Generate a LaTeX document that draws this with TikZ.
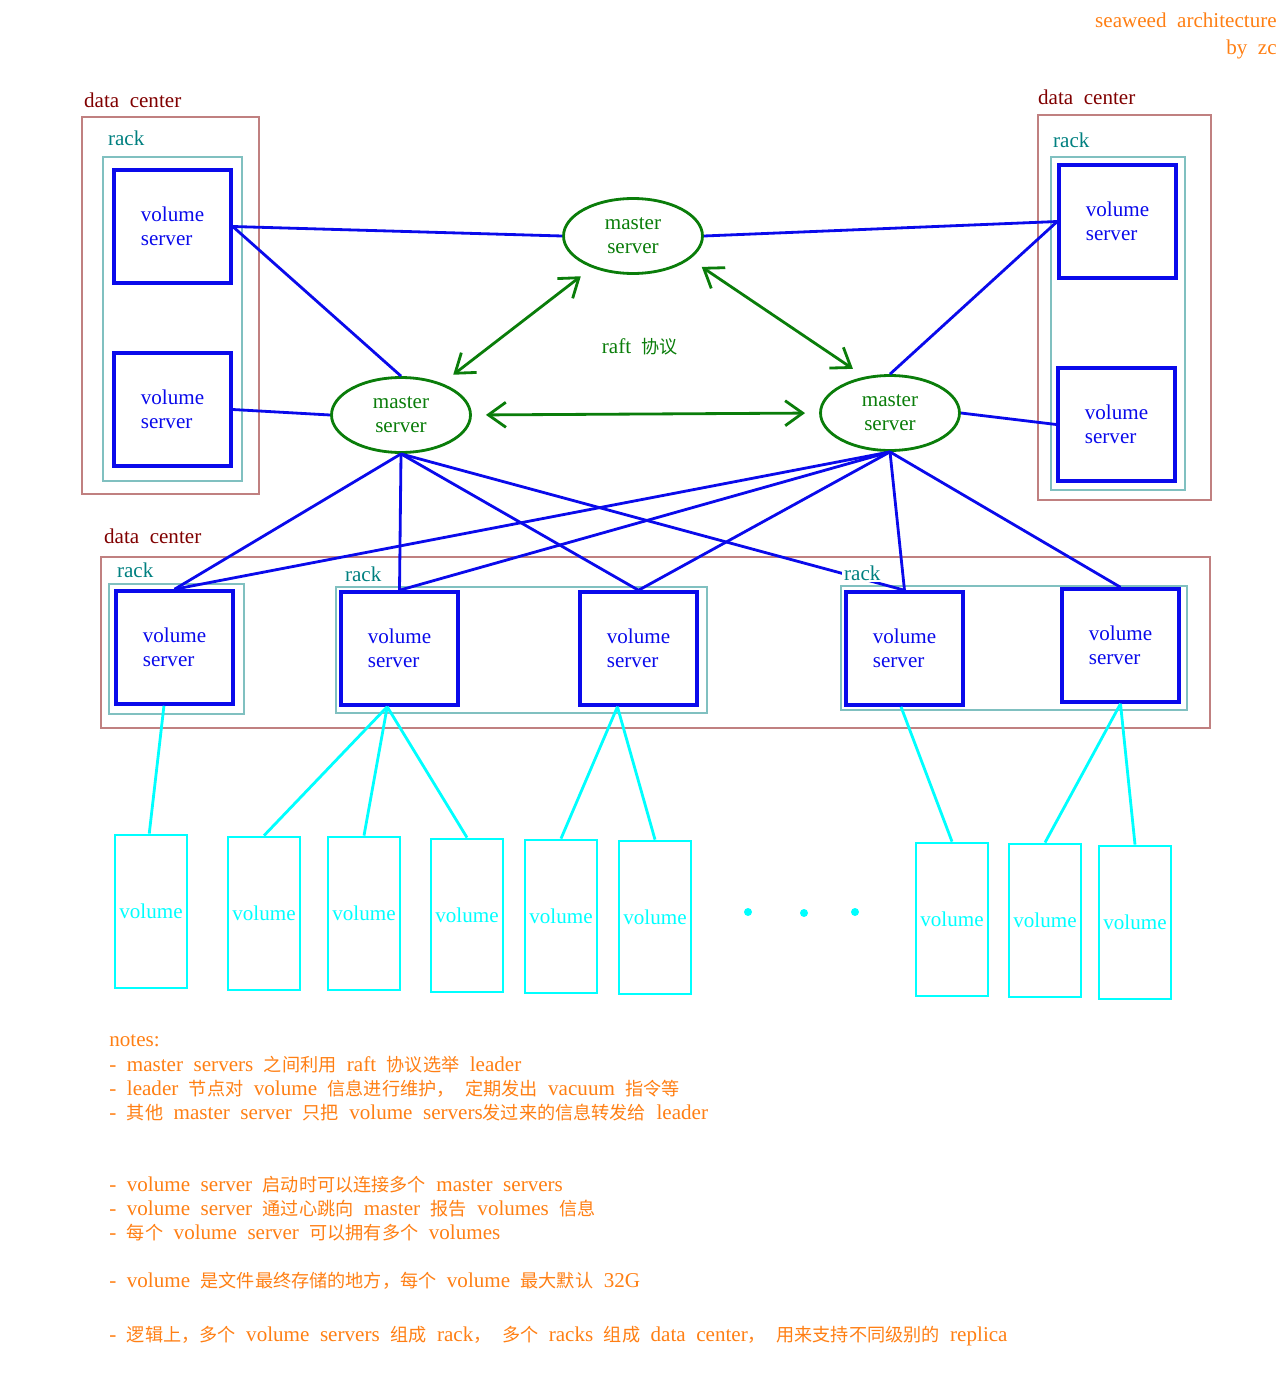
\documentclass[tikz,border=0pt]{standalone}
\usepackage{fontspec}
\setmainfont{Liberation Serif}
\newfontfamily\cjk[Scale=0.86]{Noto Sans CJK SC}
\newcommand{\zh}[1]{{\cjk #1}}
\newcommand{\widesp}{\fontdimen2\font=0.5em\relax}
\usepackage{xcolor}
\usetikzlibrary{positioning}
\usetikzlibrary{arrows.meta}
\usetikzlibrary{shapes.geometric}
\definecolor{dcline}{RGB}{192,128,128}
\definecolor{dctext}{RGB}{128,0,0}
\definecolor{rackline}{RGB}{128,192,192}
\definecolor{racktext}{RGB}{0,128,128}
\definecolor{vsblue}{RGB}{10,10,235}
\definecolor{msgreen}{RGB}{10,125,10}
\definecolor{volcyan}{RGB}{0,255,255}
\definecolor{noteorange}{RGB}{255,127,20}
\tikzset{vserver/.style={draw=vsblue, line width=2pt, minimum width=2.34cm, minimum height=2.26cm,
align=left, text=vsblue},
master/.style={ellipse, draw=msgreen, line width=1.6pt, minimum width=2.78cm, minimum height=1.5cm,
align=center, text=msgreen, inner sep=0pt},
vol/.style={draw=volcyan, line width=1.6pt, minimum width=1.44cm, minimum height=3.06cm, inner sep=0.5pt,
text=volcyan},
dcbox/.style={draw=dcline, line width=0.8pt},
rackbox/.style={draw=rackline, line width=0.8pt},
dclabel/.style={anchor=west, text=dctext, inner sep=1pt},
racklabel/.style={anchor=west, text=racktext, inner sep=1pt},
note/.style={anchor=west, text=noteorange, inner sep=0pt}}

\begin{document}
\begin{tikzpicture}[x=0.02cm, y=-0.02cm, font={\fontsize{12}{13.5}\selectfont\widesp},
  link/.style={draw=vsblue, line width=1.6pt},
  store/.style={draw=volcyan, line width=1.6pt},
  raft/.style={draw=msgreen, line width=1.6pt,
    {Straight Barb[length=3.5mm,width=5mm]}-{Straight Barb[length=3.5mm,width=5mm]},
    shorten <=8pt, shorten >=8pt},
  dot/.style={circle, fill=volcyan, inner sep=0pt, minimum size=0.16cm}]
\useasboundingbox (0,0) rectangle (1287,1392);
\node(title)[anchor=north east, align=right, text=noteorange, inner sep=0pt] at (1277,13) {seaweed architecture\\[1.5pt]by zc};

\draw[dcbox] (82,117) rectangle (259,494);
\node(dcl)[dclabel] at (82,100) {data center};
\draw[rackbox] (103,157) rectangle (242,481);
\node(rackl)[racklabel] at (106,138) {rack};
\node(vsa)[vserver] at (172.5,226.5) {volume\\server};
\node(vsb)[vserver] at (172.5,409.5) {volume\\server};

\draw[dcbox] (1038,115) rectangle (1211,500);
\node(dcr)[dclabel] at (1036,97) {data center};
\draw[rackbox] (1051,157) rectangle (1185,490);
\node(rackr)[racklabel] at (1051,140) {rack};
\node(rvsa)[vserver] at (1117.5,221.5) {volume\\server};
\node(rvsb)[vserver] at (1116.5,424.5) {volume\\server};

\node(mtop)[master] at (633,236) {master\\server};
\node(mleft)[master] at (401,415) {master\\server};
\node(mright)[master] at (890,413) {master\\server};
\node(raftl)[text=msgreen] at (640,347) {raft \zh{协议}};

\draw[dcbox] (101,557) rectangle (1210,728);
\node(dcb)[dclabel] at (102,536) {data center};
\draw[rackbox] (109,584) rectangle (244,714);
\node(racka)[racklabel] at (115,570) {rack};
\draw[rackbox] (336,587) rectangle (707,713);
\node(rackb)[racklabel] at (343,574) {rack};
\draw[rackbox] (841,586) rectangle (1187,710);
\node(bvsa)[vserver] at (174.5,647.5) {volume\\server};
\node(bvsb)[vserver] at (399.5,648.5) {volume\\server};
\node(bvsc)[vserver] at (638.5,648.5) {volume\\server};
\node(bvsd)[vserver] at (904.5,648.5) {volume\\server};
\node(bvse)[vserver] at (1120.5,645.5) {volume\\server};

\node(vola)[vol] at (151,911.5) {volume};
\node(volb)[vol] at (264,913.5) {volume};
\node(volc)[vol] at (364,913.5) {volume};
\node(vold)[vol] at (467,915.5) {volume};
\node(vole)[vol] at (561,916.5) {volume};
\node(volf)[vol] at (655,917.5) {volume};
\node(volg)[vol] at (952,919.5) {volume};
\node(volh)[vol] at (1045,920.5) {volume};
\node(voli)[vol] at (1135,922.5) {volume};
\node(dota)[dot] at (748,912) {};
\node(dotb)[dot] at (804,913) {};
\node(dotc)[dot] at (855,912) {};

\draw[link] (vsa.east) -- (mtop.west);
\draw[link] (vsa.east) -- (mleft.north);
\draw[link] (vsb.east) -- (mleft.west);
\draw[link] (mtop.east) -- (rvsa.west);
\draw[link] (rvsa.west) -- (mright.north);
\draw[link] (mright.east) -- (rvsb.west);
\foreach \vs in {bvsa,bvsb,bvsc,bvsd}
  \draw[link] (mleft.south) -- (\vs.north);
\foreach \vs in {bvsa,bvsb,bvsc,bvsd,bvse}
  \draw[link] (mright.south) -- (\vs.north);

\draw[raft] (mleft) -- (mtop);
\draw[raft] (mtop.-22) -- (mright.125);
\draw[raft] (mleft.east) -- (mright.west);

\draw[store] ([xshift=-6]bvsa.south) -- ([xshift=-1]vola.north);
\foreach \v in {volb,volc,vold}
  \draw[store] ([xshift=-7]bvsb.south) -- (\v.north);
\foreach \v in {vole,volf}
  \draw[store] ([xshift=-12]bvsc.south) -- (\v.north);
\draw[store] ([xshift=-2]bvsd.south) -- (volg.north);
\foreach \v in {volh,voli}
  \draw[store] (bvse.south) -- (\v.north);

\node(rackc)[racklabel, fill=white] at (842,573) {rack};

\node(nota)[note] at (109,1041) {notes:};
\node(notb)[note] at (109,1065) {- master servers \zh{之间利用} raft \zh{协议选举} leader};
\node(notc)[note] at (109,1089) {- leader \zh{节点对} volume \zh{信息进行维护，} \zh{定期发出} vacuum \zh{指令等}};
\node(notd)[note] at (109,1113) {- \zh{其他} master server \zh{只把} volume servers\zh{发过来的信息转发给} leader};
\node(note)[note] at (109,1185) {- volume server \zh{启动时可以连接多个} master servers};
\node(notf)[note] at (109,1209) {- volume server \zh{通过心跳向} master \zh{报告} volumes \zh{信息}};
\node(notg)[note] at (109,1233) {- \zh{每个} volume server \zh{可以拥有多个} volumes};
\node(noth)[note] at (109,1281) {- volume \zh{是文件最终存储的地方，每个} volume \zh{最大默认} 32G};
\node(noti)[note] at (109,1336) {- \zh{逻辑上，多个} volume servers \zh{组成} rack\zh{，} \zh{多个} racks \zh{组成} data center\zh{，} \zh{用来支持不同级别的} replica};
\end{tikzpicture}
\end{document}
